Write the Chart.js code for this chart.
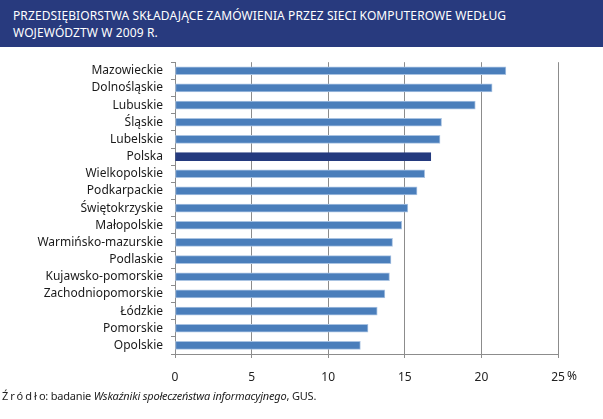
<!DOCTYPE html>
<html lang="pl">
<head>
  <meta charset="UTF-8">
  <script src="https://cdn.jsdelivr.net/npm/chart.js"></script>
  <title>Zamówienia przez sieci komputerowe</title>
  <style>
    body { margin: 0; background: #fff; width: 603px; height: 419px; position: relative; overflow: hidden; }
    .tytul {
      position: absolute; left: 0; top: 0; width: 603px; height: 47px;
      background: #283a7e; color: #fff; box-sizing: border-box;
      padding: 7px 0 0 13px; font-family: "Noto Sans", sans-serif; font-size: 12px;
      line-height: 17px; letter-spacing: 0.1px;
    }
    #wykres { position: absolute; left: 0; top: 47px; }
    .zrodlo {
      position: absolute; left: 2px; top: 388px; font-family: "Noto Sans", sans-serif;
      font-size: 11px; color: #222; letter-spacing: -0.2px;
    }
    .rozstrzel { letter-spacing: 2px; }
  </style>
</head>
<body>
  <div class="tytul">PRZEDSIĘBIORSTWA SKŁADAJĄCE ZAMÓWIENIA PRZEZ SIECI KOMPUTEROWE WEDŁUG<br>WOJEWÓDZTW W 2009 R.</div>
  <canvas id="wykres" width="603" height="343"></canvas>
  <div class="zrodlo"><span class="rozstrzel">Źródł</span>o: badanie <i>Wskaźniki społeczeństwa informacyjnego</i>, GUS.</div>

  <script>
    // dane (%)
    var wojewodztwa = ['Mazowieckie', 'Dolnośląskie', 'Lubuskie', 'Śląskie', 'Lubelskie', 'Polska',
      'Wielkopolskie', 'Podkarpackie', 'Świętokrzyskie', 'Małopolskie', 'Warmińsko-mazurskie',
      'Podlaskie', 'Kujawsko-pomorskie', 'Zachodniopomorskie', 'Łódzkie', 'Pomorskie', 'Opolskie'];
    var procent = [21.6, 20.7, 19.6, 17.4, 17.3, 16.7, 16.3, 15.8, 15.2, 14.8, 14.2, 14.1, 14.0, 13.7, 13.2, 12.6, 12.1];
    var osX = [0, 5, 10, 15, 20, 25];

    var kolory = [];
    var ramki = [];
    for (var i = 0; i < wojewodztwa.length; i++) {
      if (wojewodztwa[i] == 'Polska') {
        kolory.push('#243a7e');
        ramki.push('#243a7e');
      } else {
        kolory.push('#4a7ebb');
        ramki.push('#a9c3e2');
      }
    }

    // znak % obok ostatniej wartosci osi
    var procentPlugin = {
      id: 'procent',
      afterDraw: function (chart) {
        var x = chart.scales.x;
        var ctx = chart.ctx;
        ctx.save();
        ctx.font = '12px "Noto Sans"';
        ctx.fillStyle = '#222';
        ctx.textBaseline = 'middle';
        ctx.fillText('%', x.getPixelForValue(25) + 9, 330);
        ctx.restore();
      }
    };

    Chart.defaults.font.family = '"Noto Sans", sans-serif';
    Chart.defaults.font.size = 12;
    Chart.defaults.color = '#1a1a1a';

    new Chart(document.getElementById('wykres'), {
      type: 'bar',
      data: {
        labels: wojewodztwa,
        datasets: [{
          data: procent,
          backgroundColor: kolory,
          borderColor: ramki,
          borderWidth: 1,
          borderSkipped: false,
          barThickness: 8
        }]
      },
      options: {
        indexAxis: 'y',
        responsive: false,
        devicePixelRatio: 1,
        animation: false,
        layout: { padding: { top: 10, right: 45, left: 0, bottom: 0 } },
        plugins: { legend: { display: false }, tooltip: { enabled: false } },
        scales: {
          x: {
            min: 0,
            max: 25,
            afterBuildTicks: function (s) { s.ticks = osX.map(function (v) { return { value: v }; }); },
            afterFit: function (s) { s.height = 36; },
            ticks: { padding: 12, color: '#222' },
            grid: { color: '#8c8c8c', tickLength: 4 },
            border: { color: '#8c8c8c' }
          },
          y: {
            afterFit: function (s) { s.width = 175; },
            ticks: { padding: 8, color: '#1a1a1a', autoSkip: false },
            grid: { drawOnChartArea: false, color: '#8c8c8c', tickLength: 4, offset: true },
            border: { color: '#8c8c8c' }
          }
        }
      },
      plugins: [procentPlugin]
    });
  </script>
</body>
</html>
